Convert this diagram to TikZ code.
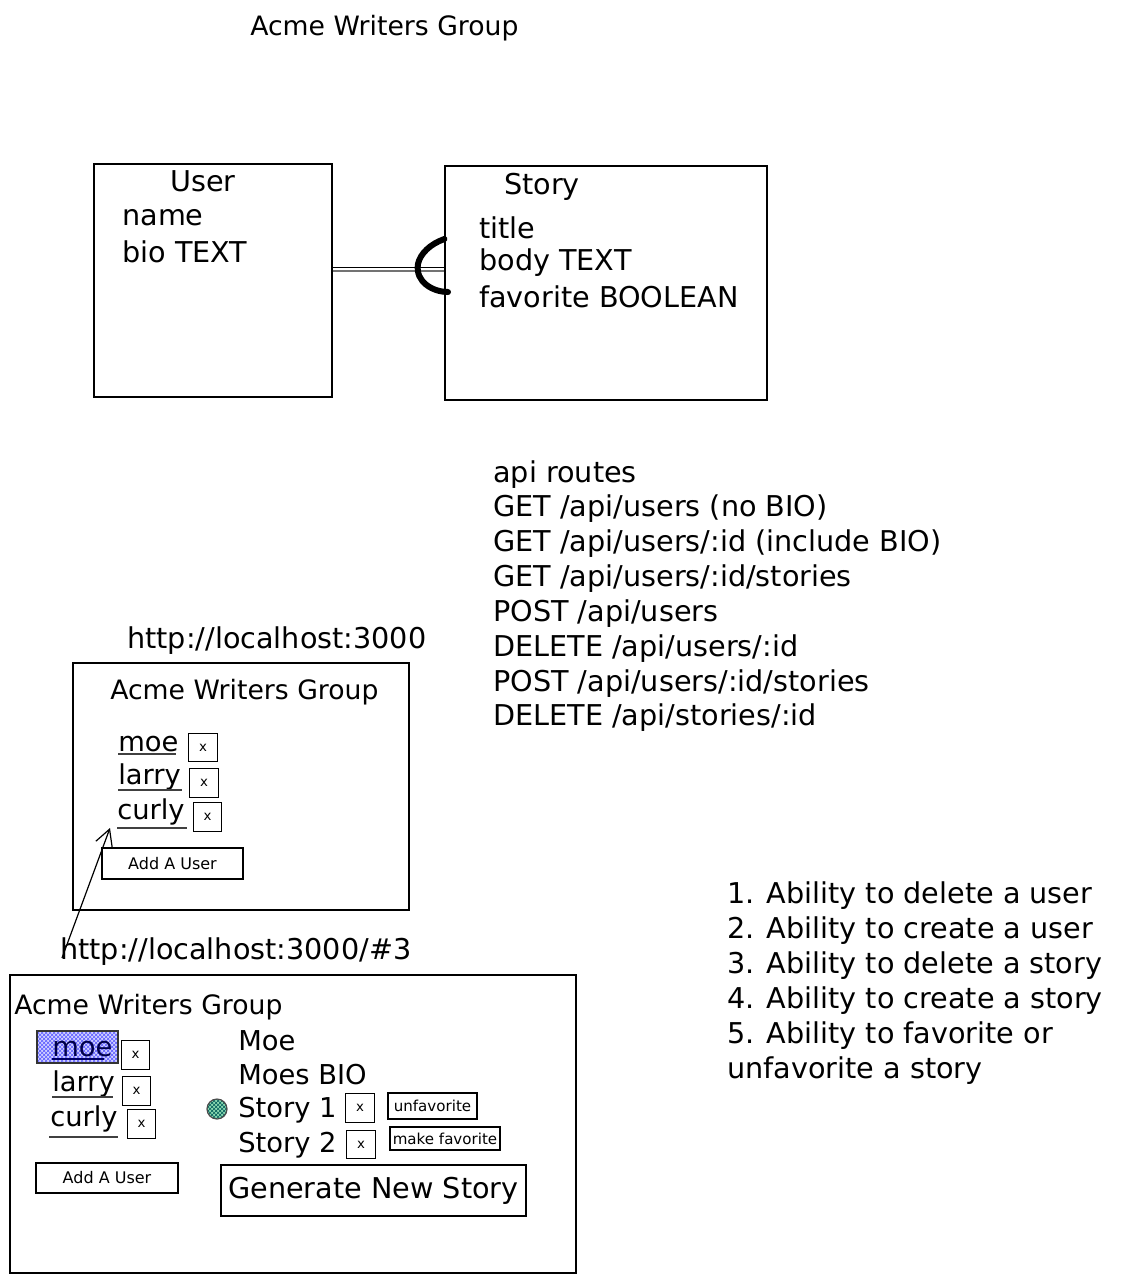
\documentclass[tikz,border=0pt]{standalone}
\usepackage{fontspec}
\setmainfont{DejaVu Sans}
\usetikzlibrary{fit,arrows.meta,patterns}
\newcommand\fttl{\fontsize{20}{24}\selectfont}
\newcommand\fbig{\fontsize{21.5}{25}\selectfont}
\newcommand\fname{\fontsize{20.5}{24}\selectfont}
\newcommand\fbtn{\fontsize{12}{14}\selectfont}
\newcommand\ftiny{\fontsize{11.3}{13}\selectfont}
\newcommand\fx{\fontsize{10}{11}\selectfont}
\tikzset{
  lbl/.style={anchor=west, inner sep=0pt},
  frame/.style={draw, line width=0.9pt, inner sep=0pt},
  xbox/.style={draw, line width=0.9pt, minimum width=21.5pt, minimum height=21.5pt, inner sep=0pt, font=\fx},
  btn/.style={draw, line width=0.9pt, inner sep=0pt},
  uline/.style={line width=1.1pt, black!75},
}
\begin{document}
\begin{tikzpicture}[x=0.75pt,y=-0.75pt]
\useasboundingbox (0,0) rectangle (1125,1283);
% title
\node[lbl, font=\fttl] (title) at (250,28) {Acme Writers Group};
% ER boxes
\coordinate (u1) at (94,164); \coordinate (u2) at (332,397);
\node[frame, fit=(u1)(u2)] (user) {};
\coordinate (s1) at (445,166); \coordinate (s2) at (767,400);
\node[frame, fit=(s1)(s2)] (story) {};
\node[font=\fbig, inner sep=0pt] (usert) at (203,181) {User};
\node[lbl, font=\fbig] (uname) at (122,218) {name};
\node[lbl, font=\fbig] (ubio) at (122,252) {bio TEXT};
\node[font=\fbig, inner sep=0pt] (storyt) at (542,187) {Story};
\node[lbl, font=\fbig] (stitle) at (479,228) {title};
\node[lbl, font=\fbig] (sbody) at (479,263) {body TEXT};
\node[lbl, font=\fbig] (sfav) at (479,297) {favorite BOOLEAN};
% relation
\draw[line width=0.8pt] (user.east |- 0,267.5) -- (story.west |- 0,267.5);
\draw[line width=0.8pt, black!55] (user.east |- 0,271) -- (story.west |- 0,271);
\draw[line width=4.5pt, line cap=round] (story.west |- 0,239) .. controls (430,244) and (420,254) .. (418,264) .. controls (415,282) and (433,292) .. (448,292);
% api routes
\node[lbl, font=\fbig] (r0) at (493,475) {api routes};
\node[lbl, font=\fbig] (r1) at (493,509) {GET /api/users (no BIO)};
\node[lbl, font=\fbig] (r2) at (493,544) {GET /api/users/:id (include BIO)};
\node[lbl, font=\fbig] (r3) at (493,579) {GET /api/users/:id/stories};
\node[lbl, font=\fbig] (r4) at (493,614) {POST /api/users};
\node[lbl, font=\fbig] (r5) at (493,649) {DELETE /api/users/:id};
\node[lbl, font=\fbig] (r6) at (493,684) {POST /api/users/:id/stories};
\node[lbl, font=\fbig] (r7) at (493,718) {DELETE /api/stories/:id};
% feature list
\node[lbl, font=\fbig] (f1) at (727,896) {1. Ability to delete a user};
\node[lbl, font=\fbig] (f2) at (727,931) {2. Ability to create a user};
\node[lbl, font=\fbig] (f3) at (727,966) {3. Ability to delete a story};
\node[lbl, font=\fbig] (f4) at (727,1001) {4. Ability to create a story};
\node[lbl, font=\fbig] (f5) at (727,1036) {5. Ability to favorite or};
\node[lbl, font=\fbig] (f6) at (727,1071) {unfavorite a story};
% screen 1
\node[lbl, font=\fbig] (url1) at (127,641) {http://localhost:3000};
\coordinate (a1) at (73,663); \coordinate (a2) at (409,910);
\node[frame, fit=(a1)(a2)] (scr1) {};
\node[lbl, font=\fttl] (scr1t) at (110,692) {Acme Writers Group};
\node[lbl, font=\fname] (moe1) at (118,744) {moe};
\node[lbl, font=\fname] (larry1) at (118,777) {larry};
\node[lbl, font=\fname] (curly1) at (117,812) {curly};
\draw[uline] (118,754) -- (176,754);
\draw[uline] (118,790) -- (182,790);
\draw[uline] (117,828) -- (187,828);
\node[xbox] (x11) at (203,747.5) {x};
\node[xbox] (x12) at (204,783) {x};
\node[xbox] (x13) at (207.5,817) {x};
\node[btn, minimum width=105.75pt, minimum height=23.25pt, font=\fbtn] (add1) at (172.5,863.5) {Add A User};
% arrow
\node[lbl, font=\fbig] (url2) at (60,952) {http://localhost:3000/\#3};
\coordinate (atail) at (62,958);
\coordinate (ahead) at (110,828);
\draw[line width=0.9pt, -{Straight Barb[length=12pt,width=13pt]}] (atail) -- (ahead);
% screen 2
\coordinate (b1) at (10,975); \coordinate (b2) at (576,1273);
\node[frame, fit=(b1)(b2)] (scr2) {};
\node[lbl, font=\fttl] (scr2t) at (14,1007) {Acme Writers Group};
\fill[blue!18] (37,1031) rectangle (118,1063);
\fill[pattern=crosshatch, pattern color=blue!65] (37,1031) rectangle (118,1063);
\draw[line width=1pt, black!80] (37,1031) rectangle (118,1063);
\node[lbl, font=\fname, text=blue!30!black] (moe2) at (52,1049) {moe};
\draw[uline, blue!40!black] (52,1059) -- (104,1059);
\node[lbl, font=\fname] (larry2) at (52,1084) {larry};
\node[lbl, font=\fname] (curly2) at (50,1119) {curly};
\draw[uline] (52,1097) -- (113,1097);
\draw[uline] (49,1137) -- (118,1137);
\node[xbox] (x21) at (135.5,1055) {x};
\node[xbox] (x22) at (136.5,1091) {x};
\node[xbox] (x23) at (141.5,1124) {x};
\node[btn, minimum width=106.5pt, minimum height=22.5pt, font=\fbtn] (add2) at (107,1178) {Add A User};
\node[lbl, font=\fname] (moe3) at (238,1041) {Moe};
\node[lbl, font=\fname] (bio) at (238,1075) {Moes BIO};
\node[lbl, font=\fname] (st1) at (238,1110) {Story 1};
\node[lbl, font=\fname] (st2) at (238,1145) {Story 2};
\fill[green!35!teal!45] (217,1109) circle[radius=10];
\fill[pattern=crosshatch, pattern color=teal!70!black] (217,1109) circle[radius=10];
\draw[line width=0.9pt, black!70] (217,1109) circle[radius=10];
\node[xbox] (xs1) at (360,1108) {x};
\node[xbox] (xs2) at (361,1144.5) {x};
\node[btn, minimum width=66.75pt, minimum height=19.5pt, font=\ftiny] (unfav) at (432.5,1106) {unfavorite};
\node[btn, minimum width=82.5pt, minimum height=17.25pt, font=\ftiny] (mkfav) at (445,1138.5) {make favorite};
\node[btn, minimum width=228.75pt, minimum height=38.25pt, font=\fbig] (gen) at (373.5,1190.5) {Generate New Story};
\end{tikzpicture}
\end{document}
